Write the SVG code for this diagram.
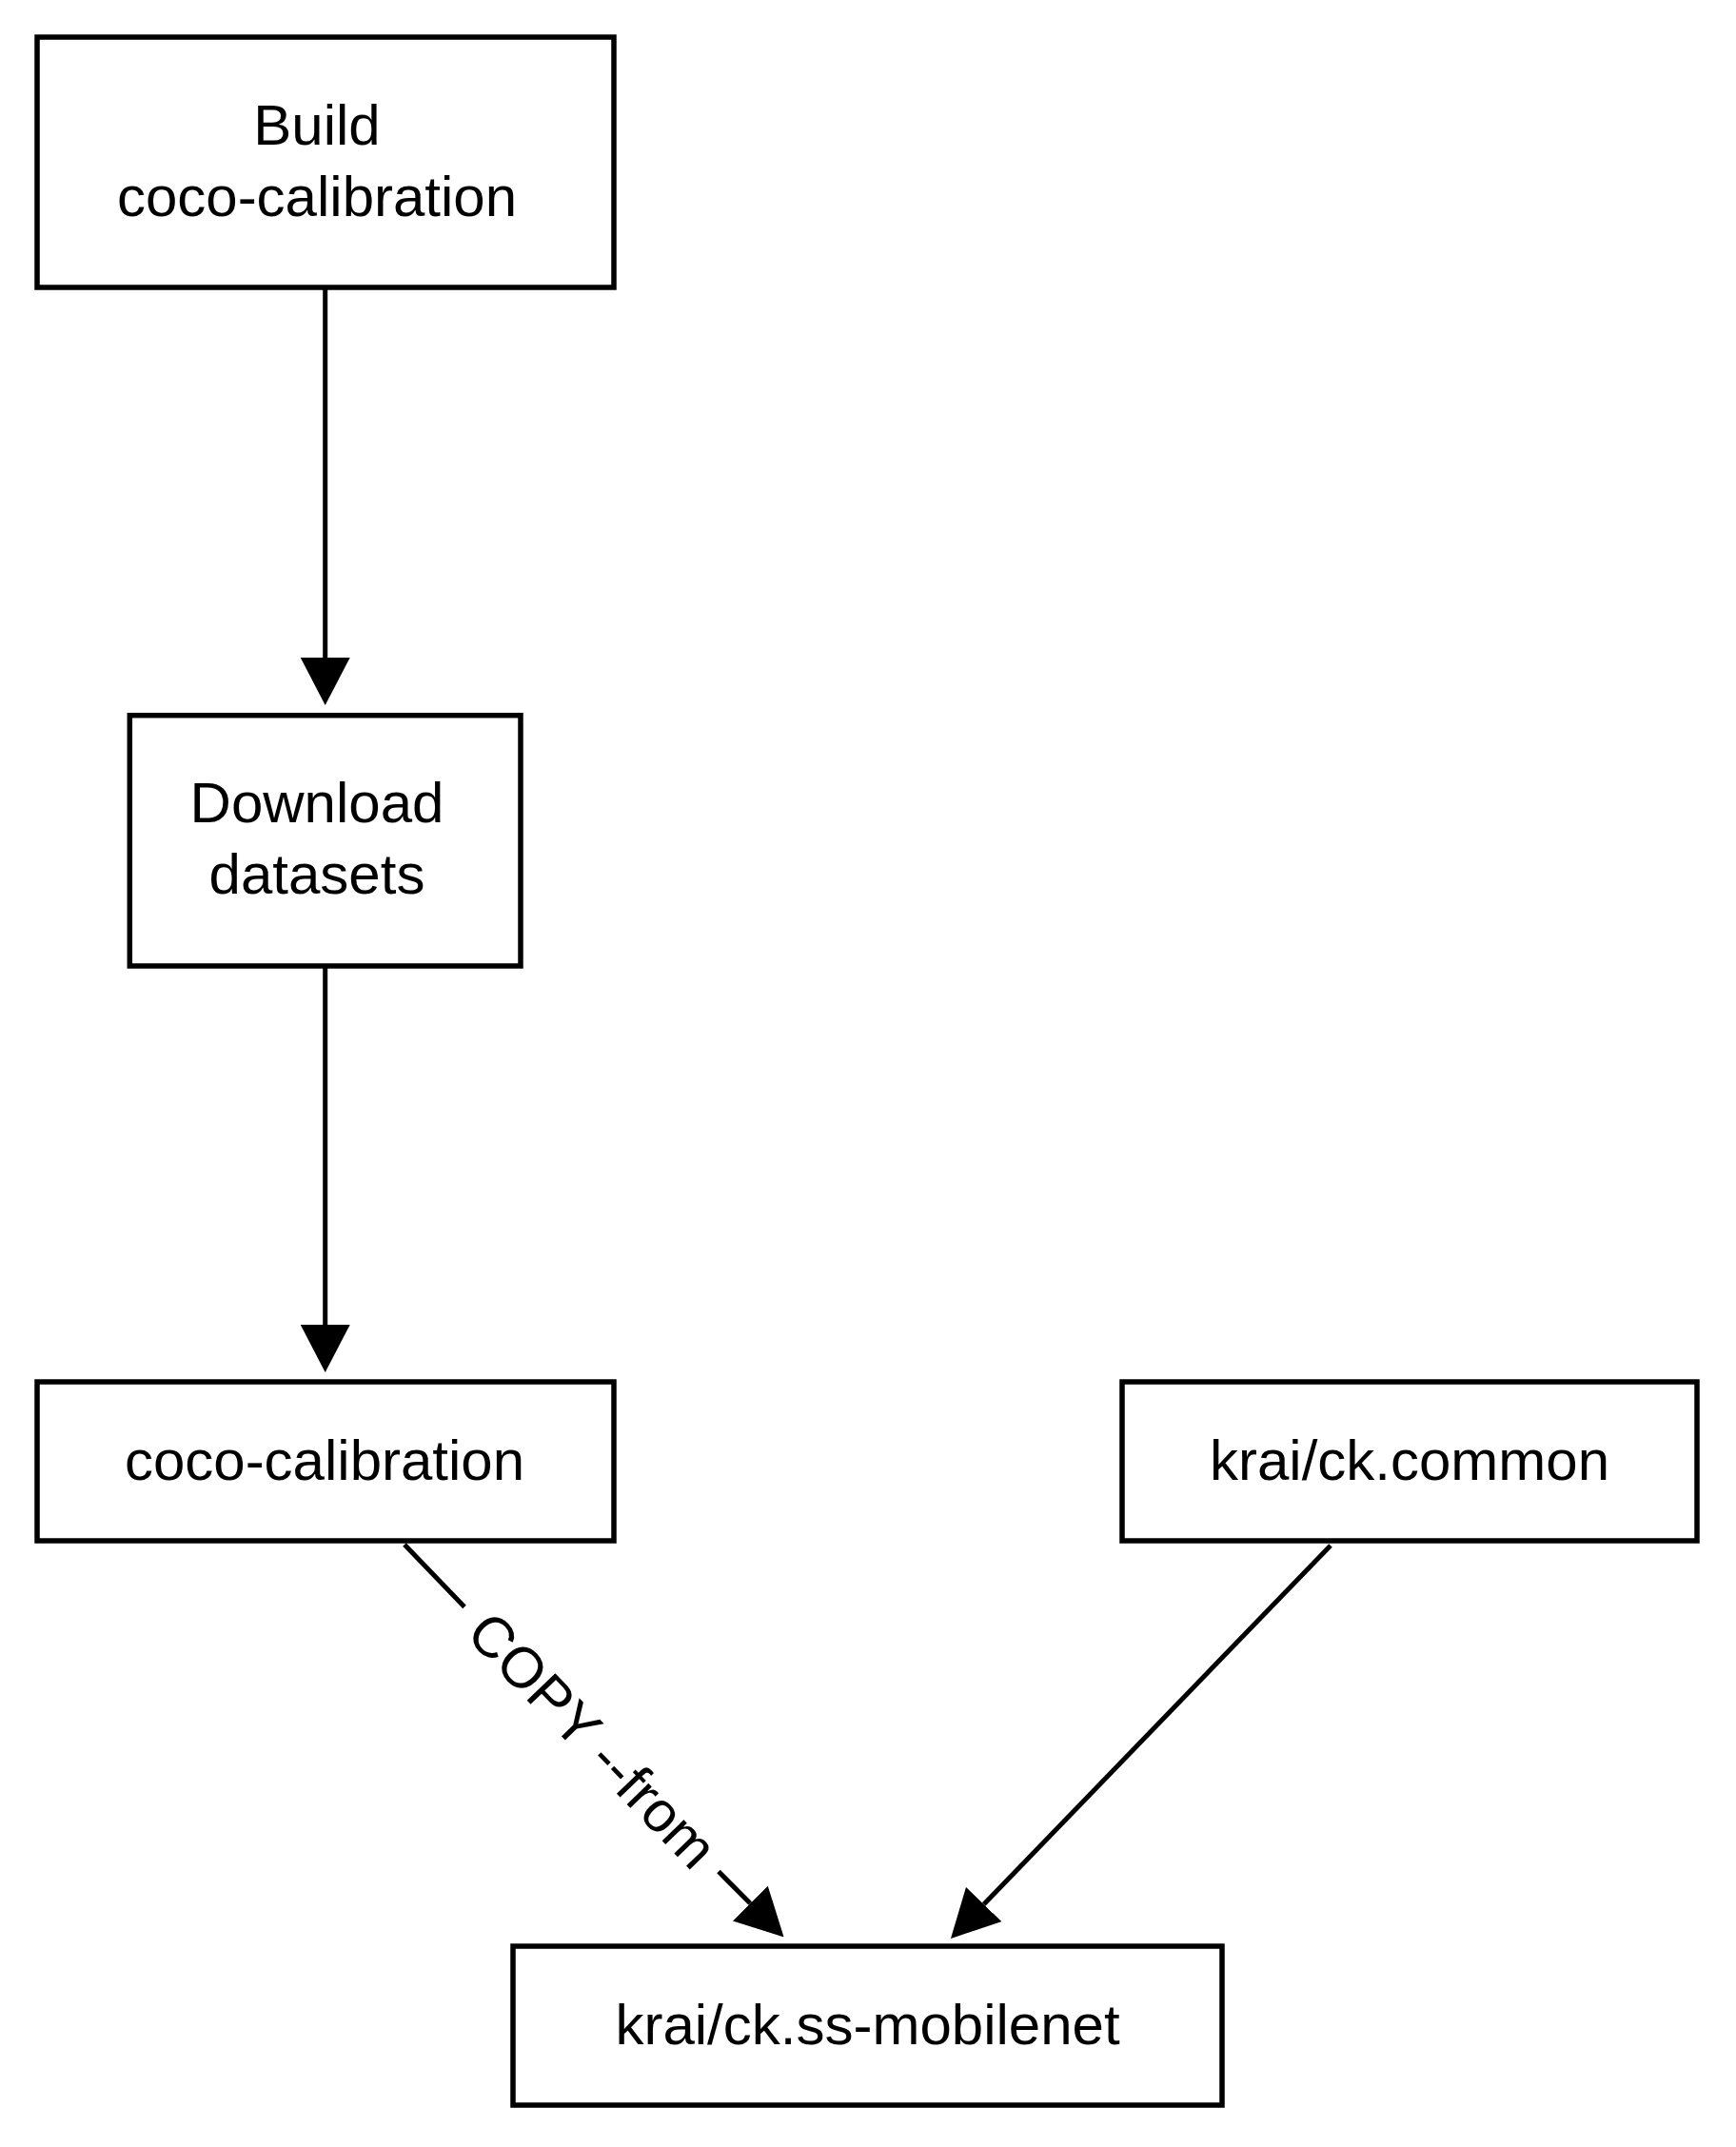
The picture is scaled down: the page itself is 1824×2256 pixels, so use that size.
<svg xmlns="http://www.w3.org/2000/svg" width="1824" height="2256" viewBox="0 0 1824 2256">
  <style>
    .node rect { fill: #ffffff; stroke: #000000; stroke-width: 5.5; }
    .node text, .label { font-family: "Liberation Sans", Arial, Helvetica, sans-serif; font-size: 60px; fill: #000000; text-anchor: middle; }
    .edge { fill: none; stroke: #000000; stroke-width: 5; }
  </style>
  <defs>
    <marker id="arrow" viewBox="0 0 50 52" refX="0" refY="26" markerWidth="50" markerHeight="52" markerUnits="userSpaceOnUse" orient="auto">
      <path d="M0,0 L50,26 L0,52 Z" fill="#000000"/>
    </marker>
  </defs>
  <rect x="0" y="0" width="1824" height="2256" fill="#ffffff"/>

  <g id="connectors">
    <line class="edge" x1="341.7" y1="302" x2="341.7" y2="691" marker-end="url(#arrow)"/>
    <line class="edge" x1="341.7" y1="1015" x2="341.7" y2="1392" marker-end="url(#arrow)"/>
    <line class="edge" x1="425" y1="1623" x2="488" y2="1688.4"/>
    <line class="edge" x1="755" y1="1966.6" x2="788.3" y2="2000" marker-end="url(#arrow)"/>
    <text class="label" transform="translate(622,1829) rotate(46.06)" x="0" y="20">COPY --from</text>
    <line class="edge" x1="1398" y1="1624" x2="1033.7" y2="2001" marker-end="url(#arrow)"/>
  </g>

  <g id="node-build" class="node">
    <rect x="39" y="39" width="606" height="263"/>
    <text x="333" y="152">Build</text>
    <text x="333" y="227">coco-calibration</text>
  </g>

  <g id="node-download" class="node">
    <rect x="136.3" y="751.7" width="410.7" height="263.3"/>
    <text x="333" y="864">Download</text>
    <text x="333" y="939">datasets</text>
  </g>

  <g id="node-coco" class="node">
    <rect x="39" y="1452" width="606" height="167"/>
    <text x="341" y="1554.5">coco-calibration</text>
  </g>

  <g id="node-common" class="node">
    <rect x="1179" y="1452" width="604" height="167"/>
    <text x="1481" y="1554.5">krai/ck.common</text>
  </g>

  <g id="node-mobilenet" class="node">
    <rect x="539" y="2045" width="745" height="167"/>
    <text x="911.5" y="2147.5">krai/ck.ss-mobilenet</text>
  </g>
</svg>
